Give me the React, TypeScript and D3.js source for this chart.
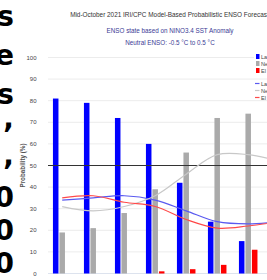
import React from 'react';
import * as d3 from 'd3';

// seasons (only the first 7 fit the frame, the 8th is cut off at the edge)
const seasons = ['OND', 'NDJ', 'DJF', 'JFM', 'FMA', 'MAM', 'AMJ', 'MJJ'];
const keys = ['La Niña', 'Neutral', 'El Niño'];

// forecast probabilities (bars)
const laNina = [81, 79, 72, 60, 42, 24, 15, 12];
const neutral = [19, 21, 28, 39, 56, 72, 74, 73];
const elNino = [0, 0, 0, 1, 2, 4, 11, 15];

// climatological probabilities (lines)
const climLaNina = [34, 35, 36, 34, 29, 24, 23, 24];
const climNeutral = [31, 29, 31, 36, 46, 55, 55, 52];
const climElNino = [35, 36, 33, 31, 25, 21, 22, 24];

const yTicks = [0, 10, 20, 30, 40, 50, 60, 70, 80, 90, 100];

// clipped glyphs of a neighbouring panel at the left edge
const edgeGlyphs = ['s', 'e', 's', ',', ',', '0', '0', '0'];
const edgeBaselines = [26, 65, 104, 128, 165, 207, 240, 273];

const barColors = ['#0000ff', '#aaaaaa', '#ff0000'];
const lineColors = ['#5a5af0', '#c8c8c8', '#ff4a4a'];

const W = 267;
const H = 280;
const narrow = '"Liberation Sans Narrow", "Liberation Sans", Arial, sans-serif';

export default function App() {
  const x = d3.scaleBand<string>()
    .domain(seasons)
    .range([46.7, 46.7 + seasons.length * 31])
    .padding(0);
  const xs = d3.scaleBand<string>()
    .domain(keys)
    .range([-9.75, 9.75])
    .paddingInner(0.15)
    .paddingOuter(0.075);
  const y = d3.scaleLinear().domain([0, 100]).range([273.5, 57.5]);

  const cx = (s: string) => (x(s) ?? 0) + x.bandwidth() / 2;
  const series = [laNina, neutral, elNino];
  const clim = [climLaNina, climNeutral, climElNino];

  const line = d3.line<number>()
    .x((_, i) => cx(seasons[i]))
    .y(d => y(d))
    .curve(d3.curveCatmullRom.alpha(0.5));

  return (
    <svg width={W} height={H} style={{ position: 'absolute', left: 0, top: 0, background: '#fff' }}>
      <defs>
        <clipPath id="plot">
          <rect x={0} y={0} width={W} height={H} />
        </clipPath>
      </defs>

      {edgeGlyphs.map((g, i) => (
        <text key={i} x={14} y={edgeBaselines[i]} textAnchor="end" fontSize={28}
          fontWeight="bold" fontFamily='"DejaVu Sans", sans-serif' fill="#000">{g}</text>
      ))}

      <text x={171} y={17} textAnchor="middle" fontSize={6.4} fontFamily={narrow} fill="#333">
        Mid-October 2021 IRI/CPC Model-Based Probabilistic ENSO Forecasts
      </text>
      <text x={170} y={33} textAnchor="middle" fontSize={6.3} fontFamily={narrow} fill="#3b3b95">
        ENSO state based on NINO3.4 SST Anomaly
      </text>
      <text x={170} y={45} textAnchor="middle" fontSize={6.3} fontFamily={narrow} fill="#3b3b95">
        Neutral ENSO: -0.5 °C to 0.5 °C
      </text>

      <text transform={`translate(24.5,${y(50)}) rotate(-90)`} textAnchor="middle" fontSize={6.3}
        fontWeight="bold" fontFamily='"Liberation Sans", Arial, sans-serif' fill="#555">
        Probability (%)
      </text>

      <g clipPath="url(#plot)">
        {yTicks.map(t => (
          <g key={t}>
            <line x1={48} x2={W} y1={y(t)} y2={y(t)}
              stroke={t === 0 ? '#dde3ee' : '#ececec'} strokeWidth={1} />
            <text x={36.5} y={y(t) + 2} textAnchor="end" fontSize={6} fontFamily={narrow} fill="#444">{t}</text>
          </g>
        ))}

        {seasons.map((s, i) => (
          <g key={s} transform={`translate(${cx(s)},0)`}>
            {keys.map((k, j) => {
              const v = series[j][i];
              if (!v) return null;
              return (
                <rect key={k} x={xs(k)} y={y(v)} width={xs.bandwidth()} height={y(0) - y(v)}
                  fill={barColors[j]} />
              );
            })}
          </g>
        ))}

        <line x1={48} x2={W} y1={y(50)} y2={y(50)} stroke="#333" strokeWidth={1} />

        {clim.map((c, j) => (
          <path key={j} d={line(c) ?? ''} fill="none" stroke={lineColors[j]} strokeWidth={1.2} />
        ))}

        <g>
          <rect x={254} y={52} width={20} height={48} fill="#fff" />
          {keys.map((k, j) => (
            <g key={k}>
              <rect x={256} y={54 + j * 7} width={3.5} height={5} fill={barColors[j]} />
              <text x={261} y={58.5 + j * 7} fontSize={5.5} fontFamily={narrow} fill="#444">{k}</text>
              <line x1={255} x2={259.5} y1={83.5 + j * 7} y2={83.5 + j * 7} stroke={lineColors[j]} strokeWidth={1.2} />
              <text x={261} y={85.5 + j * 7} fontSize={5.5} fontFamily={narrow} fill="#444">{k}</text>
            </g>
          ))}
          <line x1={254} x2={W} y1={79} y2={79} stroke="#ececec" />
        </g>
      </g>
    </svg>
  );
}
